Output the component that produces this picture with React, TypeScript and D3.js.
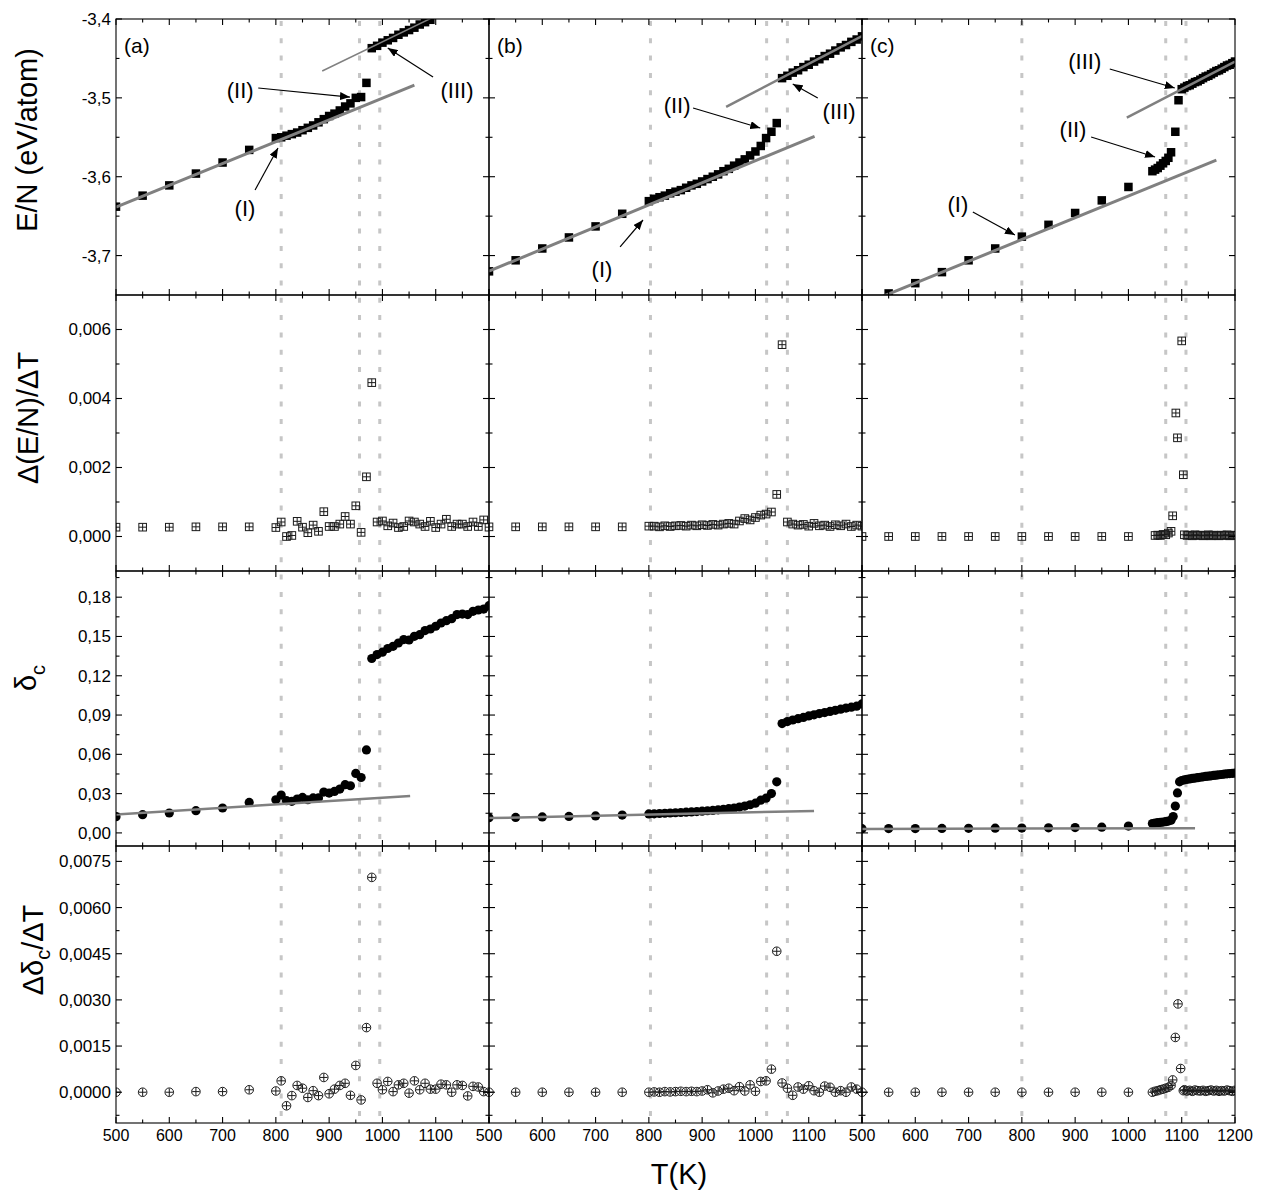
import React, { useEffect, useRef } from "react";
import * as d3 from "d3";

// temperature grid of panels (a) and (b)
const tempAB = [500, 550, 600, 650, 700, 750, 800, 810, 820, 830, 840, 850, 860, 870, 880, 890, 900, 910, 920, 930, 940, 950, 960, 970, 980, 990, 1000, 1010, 1020, 1030, 1040, 1050, 1060, 1070, 1080, 1090, 1100, 1110, 1120, 1130, 1140, 1150, 1160, 1170, 1180, 1190, 1200];

// panel (a)
const enA = [-3.638, -3.624, -3.611, -3.596, -3.582, -3.566, -3.551, -3.55, -3.548, -3.546, -3.544, -3.541, -3.538, -3.535, -3.531, -3.527, -3.523, -3.52, -3.516, -3.511, -3.507, -3.5, -3.499, -3.481, -3.437, -3.434, -3.43, -3.427, -3.424, -3.42, -3.417, -3.414, -3.411, -3.407, -3.404, -3.401];
const dEnA = [0.00027, 0.00027, 0.00027, 0.00028, 0.00028, 0.00028, 0.00026, 0.00042, 0.0, 0.00003, 0.00044, 0.00027, 0.00011, 0.00033, 0.00015, 0.00072, 0.00029, 0.00029, 0.00036, 0.00058, 0.00036, 0.00089, 0.00012, 0.00173, 0.00446, 0.00042, 0.00045, 0.00031, 0.00039, 0.00026, 0.00029, 0.00045, 0.00042, 0.00036, 0.00029, 0.00044, 0.00026, 0.00036, 0.0005, 0.00029, 0.00036, 0.00036, 0.00029, 0.00042, 0.00029, 0.00048, 0.00027];
const dcA = [0.0124, 0.0139, 0.0152, 0.017, 0.019, 0.0233, 0.0253, 0.0289, 0.0246, 0.0241, 0.0259, 0.0271, 0.0253, 0.0267, 0.0267, 0.0312, 0.0304, 0.0317, 0.0335, 0.0368, 0.036, 0.0454, 0.0423, 0.0634, 0.1332, 0.1362, 0.138, 0.1408, 0.1425, 0.145, 0.1476, 0.1473, 0.1501, 0.1514, 0.1545, 0.1557, 0.1578, 0.1603, 0.1621, 0.1636, 0.1667, 0.1671, 0.1667, 0.1692, 0.1702, 0.1709, 0.1735];
const ddcA = [0, 0, 0, 0.00002, 0.00002, 0.00008, 0.00004, 0.00037, -0.00044, -0.00011, 0.00022, 0.00013, -0.00017, 0.00005, -0.00011, 0.00048, -0.00005, 0.0001, 0.00022, 0.00029, -0.0001, 0.00087, -0.00025, 0.0021, 0.00698, 0.00029, 0.00008, 0.00035, 0.00002, 0.00024, 0.00029, -0.00003, 0.00037, 0.00008, 0.00029, 0.0001, 0.0001, 0.00026, 0.00024, 0, 0.00024, 0.00022, -0.00012, 0.00019, 0.00017, 0.00002, 0];

// panel (b)
const enB = [-3.72, -3.706, -3.691, -3.677, -3.663, -3.647, -3.631, -3.628, -3.626, -3.624, -3.621, -3.619, -3.617, -3.614, -3.611, -3.609, -3.606, -3.603, -3.6, -3.597, -3.593, -3.59, -3.586, -3.582, -3.578, -3.573, -3.568, -3.561, -3.551, -3.543, -3.532, -3.475, -3.472, -3.468, -3.465, -3.461, -3.458, -3.454, -3.451, -3.447, -3.444, -3.44, -3.436, -3.433, -3.429, -3.426, -3.422];
const dEnB = [0.00028, 0.00028, 0.00028, 0.00028, 0.00028, 0.00028, 0.0003, 0.0003, 0.00028, 0.00031, 0.00029, 0.00031, 0.00032, 0.0003, 0.00033, 0.00031, 0.00034, 0.00032, 0.00035, 0.00033, 0.00036, 0.00038, 0.00036, 0.00045, 0.00052, 0.00048, 0.00055, 0.00062, 0.00065, 0.00071, 0.00122, 0.00556, 0.00042, 0.00036, 0.00033, 0.00035, 0.0003, 0.00038, 0.00031, 0.00033, 0.00029, 0.00034, 0.00031, 0.00036, 0.00029, 0.00033, 0.0003];
const dcB = [0.0116, 0.0118, 0.0122, 0.0126, 0.013, 0.0136, 0.0145, 0.0146, 0.0148, 0.015, 0.0152, 0.0154, 0.0156, 0.0158, 0.016, 0.0163, 0.0166, 0.0169, 0.0172, 0.0176, 0.018, 0.0185, 0.019, 0.0197, 0.0205, 0.0215, 0.0227, 0.025, 0.0265, 0.03, 0.039, 0.0835, 0.085, 0.0862, 0.0872, 0.0882, 0.0893, 0.0902, 0.0911, 0.0919, 0.0928, 0.0936, 0.0945, 0.0953, 0.096, 0.0968, 0.0985];
const ddcB = [0, 0, 0, 0, 0, 0, 0, 0.00001, 0, 0.00002, 0.00001, 0.00002, 0.00003, 0.00002, 0.00003, 0.00002, 0.00004, 0.00008, -0.00002, 0.00004, 0.0001, 0.00013, 0.00005, 0.00018, 0.00004, 0.00024, 0.00003, 0.00035, 0.00037, 0.00075, 0.00458, 0.0003, 0.00013, -0.0001, 0.00017, 0.0001, 0.00021, 0.00005, 0, 0.0002, 0.00016, 0, 0.00005, 0, 0.00017, 0.0001, 0];

// panel (c)
const tempCen = [550, 600, 650, 700, 750, 800, 850, 900, 950, 1000, 1045, 1050, 1055, 1060, 1065, 1070, 1075, 1080, 1088, 1094, 1100, 1105, 1110, 1115, 1120, 1125, 1130, 1135, 1140, 1145, 1150, 1155, 1160, 1165, 1170, 1175, 1180, 1185, 1190, 1195, 1200];
const enC = [-3.748, -3.735, -3.721, -3.706, -3.691, -3.676, -3.661, -3.646, -3.63, -3.613, -3.593, -3.591, -3.589, -3.586, -3.583, -3.58, -3.576, -3.569, -3.543, -3.503, -3.489, -3.487, -3.485, -3.484, -3.482, -3.48, -3.479, -3.477, -3.475, -3.473, -3.472, -3.47, -3.468, -3.466, -3.465, -3.463, -3.461, -3.459, -3.458, -3.456, -3.454];
const tempCdE = [500, 550, 600, 650, 700, 750, 800, 850, 900, 950, 1000, 1050, 1055, 1060, 1065, 1070, 1075, 1080, 1083, 1089, 1092, 1100, 1103, 1105, 1110, 1115, 1120, 1125, 1130, 1135, 1140, 1145, 1150, 1155, 1160, 1165, 1170, 1175, 1180, 1185, 1190, 1195, 1200];
const dEnC = [0, 0, 0, 0, 0, 0, 0, 0, 0, 0, 0, 0.00003, 0.00004, 0.00003, 0.00006, 0.00005, 0.0001, 0.00015, 0.0006, 0.00358, 0.00286, 0.00567, 0.00179, 0.00005, 0.00003, 0.00004, 0.00002, 0.00005, 0.00003, 0.00004, 0.00002, 0.00003, 0.00005, 0.00002, 0.00004, 0.00003, 0.00002, 0.00004, 0.00003, 0.00005, 0.00002, 0.00003, 0.00004];
const tempCdc = [500, 550, 600, 650, 700, 750, 800, 850, 900, 950, 1000, 1045, 1050, 1055, 1060, 1065, 1070, 1075, 1080, 1084, 1088, 1092, 1096, 1100, 1105, 1110, 1115, 1120, 1125, 1130, 1135, 1140, 1145, 1150, 1155, 1160, 1165, 1170, 1175, 1180, 1185, 1190, 1195, 1200];
const dcC = [0.0032, 0.0033, 0.0033, 0.0034, 0.0035, 0.0036, 0.0037, 0.0039, 0.0041, 0.0044, 0.0052, 0.0072, 0.0075, 0.0078, 0.008, 0.0083, 0.0086, 0.009, 0.0097, 0.0125, 0.0205, 0.0305, 0.039, 0.04, 0.0405, 0.0409, 0.0412, 0.0416, 0.0419, 0.0422, 0.0425, 0.0428, 0.0431, 0.0433, 0.0436, 0.0439, 0.0441, 0.0444, 0.0446, 0.0449, 0.0451, 0.0453, 0.0455, 0.0457];
const tempCddc = [500, 550, 600, 650, 700, 750, 800, 850, 900, 950, 1000, 1045, 1050, 1055, 1060, 1065, 1070, 1075, 1080, 1083, 1088, 1093, 1098, 1103, 1105, 1110, 1115, 1120, 1125, 1130, 1135, 1140, 1145, 1150, 1155, 1160, 1165, 1170, 1175, 1180, 1185, 1190, 1195, 1200];
const ddcC = [0, 0, 0, 0, 0, 0, 0, 0, 0, 0, 0, 0, 0.00003, 0.00005, 0.00008, 0.0001, 0.00013, 0.00016, 0.00022, 0.0004, 0.00178, 0.00287, 0.00077, 0.00005, 0.00008, 0.00004, 0.00006, 0.00003, 0.00007, 0.00005, 0.00004, 0.00006, 0.00003, 0.00005, 0.00007, 0.00004, 0.00006, 0.00003, 0.00005, 0.00004, 0.00007, 0.00005, 0.00003, 0.00006];

// linear fits (I) and (III), [T, value] end points
const fitEnA = [[500, -3.6385], [1060, -3.4839]];
const fitEnA3 = [[887, -3.466], [1090, -3.3995]];
const fitEnB = [[500, -3.7198], [1111, -3.5487]];
const fitEnB3 = [[945, -3.5114], [1200, -3.4216]];
const fitEnC = [[500, -3.7625], [1165, -3.579]];
const fitEnC3 = [[997, -3.525], [1200, -3.454]];
const fitDcA = [[500, 0.014], [1052, 0.0282]];
const fitDcB = [[500, 0.0113], [1110, 0.0168]];
const fitDcC = [[500, 0.003], [1125, 0.0036]];

// transition temperatures (dotted lines)
const vlinesA = [810, 957, 995];
const vlinesB = [803, 1021, 1060];
const vlinesC = [800, 1070, 1108];

// ticks
const xMajor = [500, 600, 700, 800, 900, 1000, 1100, 1200];
const xMinor = [550, 650, 750, 850, 950, 1050, 1150];
const ticksEn = [-3.7, -3.6, -3.5, -3.4];
const minorEn = [-3.65, -3.55, -3.45];
const ticksDe = [0, 0.002, 0.004, 0.006];
const minorDe = [0.001, 0.003, 0.005];
const ticksDc = [0, 0.03, 0.06, 0.09, 0.12, 0.15, 0.18];
const minorDc = [0.015, 0.045, 0.075, 0.105, 0.135, 0.165, 0.195];
const ticksDdc = [0, 0.0015, 0.003, 0.0045, 0.006, 0.0075];
const minorDdc = [-0.00075, 0.00075, 0.00225, 0.00375, 0.00525, 0.00675];

const FONT = "'Liberation Sans', Arial, Helvetica, sans-serif";
const colX = [116, 489, 862];
const colW = 373;
const rowTop = [19, 295, 571, 846];
const rowH = [276, 276, 275, 277];

const rows = [
  { domain: [-3.75, -3.4], major: ticksEn, minor: minorEn, digits: 1, marker: "square" },
  { domain: [-0.001, 0.007], major: ticksDe, minor: minorDe, digits: 3, marker: "boxplus" },
  { domain: [-0.01, 0.2], major: ticksDc, minor: minorDc, digits: 2, marker: "disc" },
  { domain: [-0.001, 0.008], major: ticksDdc, minor: minorDdc, digits: 4, marker: "oplus" },
];

const panels = [
  {
    label: "(a)", vlines: vlinesA,
    series: [[tempAB, enA], [tempAB, dEnA], [tempAB, dcA], [tempAB, ddcA]],
    fits: [[{ p: fitEnA, w: 3 }, { p: fitEnA3, w: 1.5 }], [], [{ p: fitDcA, w: 2.5 }], []],
    notes: [
      { text: "(II)", at: [733, -3.49], from: [767, -3.4875], to: [939, -3.499] },
      { text: "(III)", at: [1140, -3.49], from: [1095, -3.4735], to: [1010, -3.4368] },
      { text: "(I)", at: [742, -3.6397], from: [761, -3.6168], to: [804, -3.5636] },
    ],
  },
  {
    label: "(b)", vlines: vlinesB,
    series: [[tempAB, enB], [tempAB, dEnB], [tempAB, dcB], [tempAB, ddcB]],
    fits: [[{ p: fitEnB, w: 3 }, { p: fitEnB3, w: 2.5 }], [], [{ p: fitDcB, w: 2.5 }], []],
    notes: [
      { text: "(II)", at: [853, -3.509], from: [883, -3.5129], to: [1009, -3.5382] },
      { text: "(III)", at: [1157, -3.5167], from: [1117, -3.5002], to: [1070, -3.4824] },
      { text: "(I)", at: [712, -3.717], from: [746, -3.6891], to: [789, -3.6549] },
    ],
  },
  {
    label: "(c)", vlines: vlinesC,
    series: [[tempCen, enC], [tempCdE, dEnC], [tempCdc, dcC], [tempCddc, ddcC]],
    fits: [[{ p: fitEnC, w: 3 }, { p: fitEnC3, w: 2.5 }], [], [{ p: fitDcC, w: 2.5 }], []],
    notes: [
      { text: "(III)", at: [918, -3.4533], from: [965, -3.4634], to: [1087, -3.4875] },
      { text: "(II)", at: [896, -3.5395], from: [930, -3.5496], to: [1050, -3.575] },
      { text: "(I)", at: [680, -3.6346], from: [708, -3.6447], to: [787, -3.6739] },
    ],
  },
];

const fmt = (v: number, d: number) => v.toFixed(d).replace(".", ",");

export default function App() {
  const svgRef = useRef<SVGSVGElement>(null);

  useEffect(() => {
    const svg = d3.select(svgRef.current);
    svg.selectAll("*").remove();

    const defs = svg.append("defs");
    defs
      .append("marker")
      .attr("id", "arrow")
      .attr("viewBox", "0 0 10 8")
      .attr("refX", 10)
      .attr("refY", 4)
      .attr("markerWidth", 10)
      .attr("markerHeight", 8)
      .attr("markerUnits", "userSpaceOnUse")
      .attr("orient", "auto")
      .append("path")
      .attr("d", "M0,0 L10,4 L0,8 z")
      .attr("fill", "#000");

    panels.forEach((panel, c) => {
      const x = d3.scaleLinear().domain([500, 1200]).range([colX[c], colX[c] + colW]);

      // dotted transition lines over the whole column
      svg
        .append("g")
        .selectAll("line")
        .data(panel.vlines)
        .join("line")
        .attr("x1", (d) => x(d))
        .attr("x2", (d) => x(d))
        .attr("y1", rowTop[0] + 2)
        .attr("y2", rowTop[3] + rowH[3])
        .attr("stroke", "#c6c6c6")
        .attr("stroke-width", 3)
        .attr("stroke-dasharray", "5 12.3");

      rows.forEach((row, r) => {
        const y = d3.scaleLinear().domain(row.domain).range([rowTop[r] + rowH[r], rowTop[r]]);
        const clipId = `clip-${c}-${r}`;
        defs
          .append("clipPath")
          .attr("id", clipId)
          .append("rect")
          .attr("x", colX[c])
          .attr("y", rowTop[r])
          .attr("width", colW)
          .attr("height", rowH[r]);

        const g = svg.append("g").attr("clip-path", `url(#${clipId})`);
        const [ts, vs] = panel.series[r];
        const pts = vs.map((v, i) => [ts[i], v]);

        if (row.marker === "square") {
          g.selectAll("rect")
            .data(pts)
            .join("rect")
            .attr("x", (d) => x(d[0]) - 4.25)
            .attr("y", (d) => y(d[1]) - 4.25)
            .attr("width", 8.5)
            .attr("height", 8.5)
            .attr("fill", "#000");
        } else if (row.marker === "disc") {
          g.selectAll("circle")
            .data(pts)
            .join("circle")
            .attr("cx", (d) => x(d[0]))
            .attr("cy", (d) => y(d[1]))
            .attr("r", 4.6)
            .attr("fill", "#000");
        } else {
          const m = g
            .selectAll("g")
            .data(pts)
            .join("g")
            .attr("transform", (d) => `translate(${x(d[0])},${y(d[1])})`)
            .attr("fill", "none")
            .attr("stroke", "#1a1a1a")
            .attr("stroke-width", 1);
          const s = 3.8;
          if (row.marker === "boxplus") {
            m.append("rect").attr("x", -s).attr("y", -s).attr("width", 2 * s).attr("height", 2 * s);
          } else {
            m.append("circle").attr("r", 4.3);
          }
          m.append("path").attr("d", `M${-s},0H${s}M0,${-s}V${s}`);
        }

        // fitted lines
        g.selectAll("path.fit")
          .data(panel.fits[r])
          .join("path")
          .attr("class", "fit")
          .attr("d", (d) => d3.line().x((p) => x(p[0])).y((p) => y(p[1]))(d.p as [number, number][]))
          .attr("stroke", "#808080")
          .attr("stroke-width", (d) => d.w)
          .attr("fill", "none");

        // frame
        const ax = svg.append("g").attr("stroke", "#000").attr("stroke-width", 1.1);
        ax.append("rect")
          .attr("x", colX[c])
          .attr("y", rowTop[r])
          .attr("width", colW)
          .attr("height", rowH[r])
          .attr("fill", "none");

        const top = rowTop[r];
        const bot = rowTop[r] + rowH[r];
        const left = colX[c];
        const right = colX[c] + colW;
        const xt = [...xMajor.map((t) => [t, 6]), ...xMinor.map((t) => [t, 3.5])];
        xt.forEach(([t, len]) => {
          ax.append("line").attr("x1", x(t)).attr("x2", x(t)).attr("y1", bot).attr("y2", bot - len);
          ax.append("line").attr("x1", x(t)).attr("x2", x(t)).attr("y1", top).attr("y2", top + len);
        });
        const yt = [...row.major.map((v) => [v, 6]), ...row.minor.map((v) => [v, 3.5])];
        yt.forEach(([v, len]) => {
          ax.append("line").attr("x1", left).attr("x2", left + len).attr("y1", y(v)).attr("y2", y(v));
          ax.append("line").attr("x1", right).attr("x2", right - len).attr("y1", y(v)).attr("y2", y(v));
        });

        if (c === 0) {
          svg
            .append("g")
            .selectAll("text")
            .data(row.major)
            .join("text")
            .attr("x", left - 5)
            .attr("y", (d) => y(d))
            .attr("dy", "0.35em")
            .attr("text-anchor", "end")
            .attr("font-family", FONT)
            .attr("font-size", 17)
            .text((d) => fmt(d, row.digits));
        }
        if (r === 3) {
          const labels = c === 2 ? xMajor : xMajor.slice(0, 7);
          svg
            .append("g")
            .selectAll("text")
            .data(labels)
            .join("text")
            .attr("x", (d) => x(d))
            .attr("y", 1141)
            .attr("text-anchor", "middle")
            .attr("font-family", FONT)
            .attr("font-size", 16)
            .text((d) => String(d));
        }

        if (r === 0) {
          svg
            .append("text")
            .attr("x", colX[c] + 8)
            .attr("y", 53)
            .attr("font-family", FONT)
            .attr("font-size", 21)
            .text(panel.label);

          const ng = svg.append("g");
          panel.notes.forEach((n) => {
            ng.append("line")
              .attr("x1", x(n.from[0]))
              .attr("y1", y(n.from[1]))
              .attr("x2", x(n.to[0]))
              .attr("y2", y(n.to[1]))
              .attr("stroke", "#000")
              .attr("stroke-width", 1.2)
              .attr("marker-end", "url(#arrow)");
            ng.append("text")
              .attr("x", x(n.at[0]))
              .attr("y", y(n.at[1]))
              .attr("dy", "0.35em")
              .attr("text-anchor", "middle")
              .attr("font-family", FONT)
              .attr("font-size", 22)
              .text(n.text);
          });
        }
      });
    });

    // axis titles
    const title = (tx: number, ty: number) =>
      svg
        .append("text")
        .attr("transform", `translate(${tx},${ty}) rotate(-90)`)
        .attr("text-anchor", "middle")
        .attr("font-family", FONT)
        .attr("font-size", 29);

    title(37, 140).text("E/N (eV/atom)");
    title(38, 418).text("Δ(E/N)/ΔT");
    const t3 = title(36, 678);
    t3.append("tspan").text("δ");
    t3.append("tspan").attr("font-size", 20).attr("dy", 9).text("c");
    const t4 = title(43, 950);
    t4.append("tspan").text("Δδ");
    t4.append("tspan").attr("font-size", 20).attr("dy", 7).text("c");
    t4.append("tspan").attr("dy", -7).text("/ΔT");

    svg
      .append("text")
      .attr("x", 679)
      .attr("y", 1184)
      .attr("text-anchor", "middle")
      .attr("font-family", FONT)
      .attr("font-size", 29)
      .text("T(K)");
  }, []);

  return (
    <svg
      ref={svgRef}
      width={1265}
      height={1198}
      style={{ position: "absolute", left: 0, top: 0, background: "#fff" }}
    />
  );
}
